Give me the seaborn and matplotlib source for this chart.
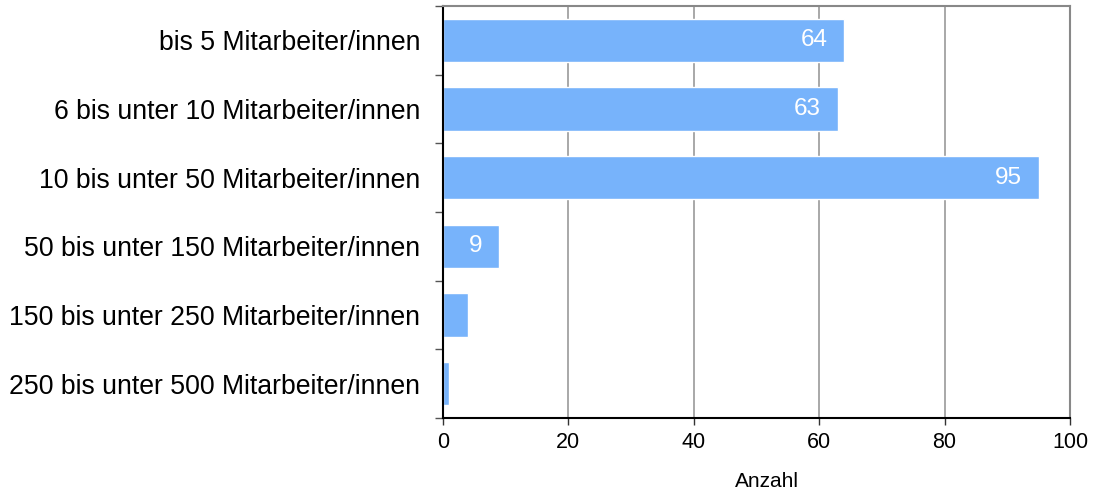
import matplotlib
matplotlib.use("Agg")
import matplotlib.pyplot as plt
import seaborn as sns
import pandas as pd
import numpy as np

categories = [
    "bis 5 Mitarbeiter/innen",
    "6 bis unter 10 Mitarbeiter/innen",
    "10 bis unter 50 Mitarbeiter/innen",
    "50 bis unter 150 Mitarbeiter/innen",
    "150 bis unter 250 Mitarbeiter/innen",
    "250 bis unter 500 Mitarbeiter/innen",
]
values = [64, 63, 95, 9, 4, 1]
x_ticks = [0, 20, 40, 60, 80, 100]
x_label = "Anzahl"

sns.set_theme(style="white")
plt.rcParams["font.family"] = ["Liberation Sans", "DejaVu Sans"]
plt.rcParams["text.color"] = "black"
plt.rcParams["xtick.color"] = "black"
plt.rcParams["ytick.color"] = "black"
plt.rcParams["axes.labelcolor"] = "black"

df = pd.DataFrame({"cat": categories, "val": values})

fig = plt.figure(figsize=(10.98, 4.95), dpi=100)
ax = fig.add_axes([443 / 1098, 1 - 418 / 495, (1070 - 443) / 1098, (418 - 6) / 495])

sns.barplot(data=df, x="val", y="cat", orient="h", color="#77b3fb",
            saturation=1, width=0.63, ax=ax, zorder=3)

ax.set_xlim(0, 100)
ax.set_ylim(len(categories) - 0.5, -0.5)
ax.set_xticks(x_ticks)
ax.set_xticklabels([str(t) for t in x_ticks], fontsize=15.5)
ax.set_xlabel(x_label, fontsize=15, labelpad=15)
ax.xaxis.set_label_coords(0.517, -0.13)
ax.set_ylabel("")
ax.tick_params(axis="y", which="major", length=0, labelsize=19.2, pad=16.5)
ax.set_yticks(np.arange(-0.5, len(categories), 1), minor=True)
ax.tick_params(axis="y", which="minor", length=6, width=1, color="#555555", left=True)
ax.tick_params(axis="x", which="major", length=5, width=1, color="#333333", bottom=True, pad=5)

ax.grid(axis="x", color="#999999", linewidth=1.2, zorder=0)
ax.grid(axis="y", visible=False)

ax.spines["left"].set_color("#000000")
ax.spines["bottom"].set_color("#000000")
ax.spines["top"].set_color("#888888")
ax.spines["right"].set_color("#888888")
for s in ax.spines.values():
    s.set_linewidth(1.5)
    s.set_zorder(4)

for i, v in enumerate(values):
    if v >= 9:
        ax.text(v - 2.7, i, str(v), color="white", fontsize=17.5,
                ha="right", va="center", zorder=5)

fig.savefig("out.png", dpi=100)
